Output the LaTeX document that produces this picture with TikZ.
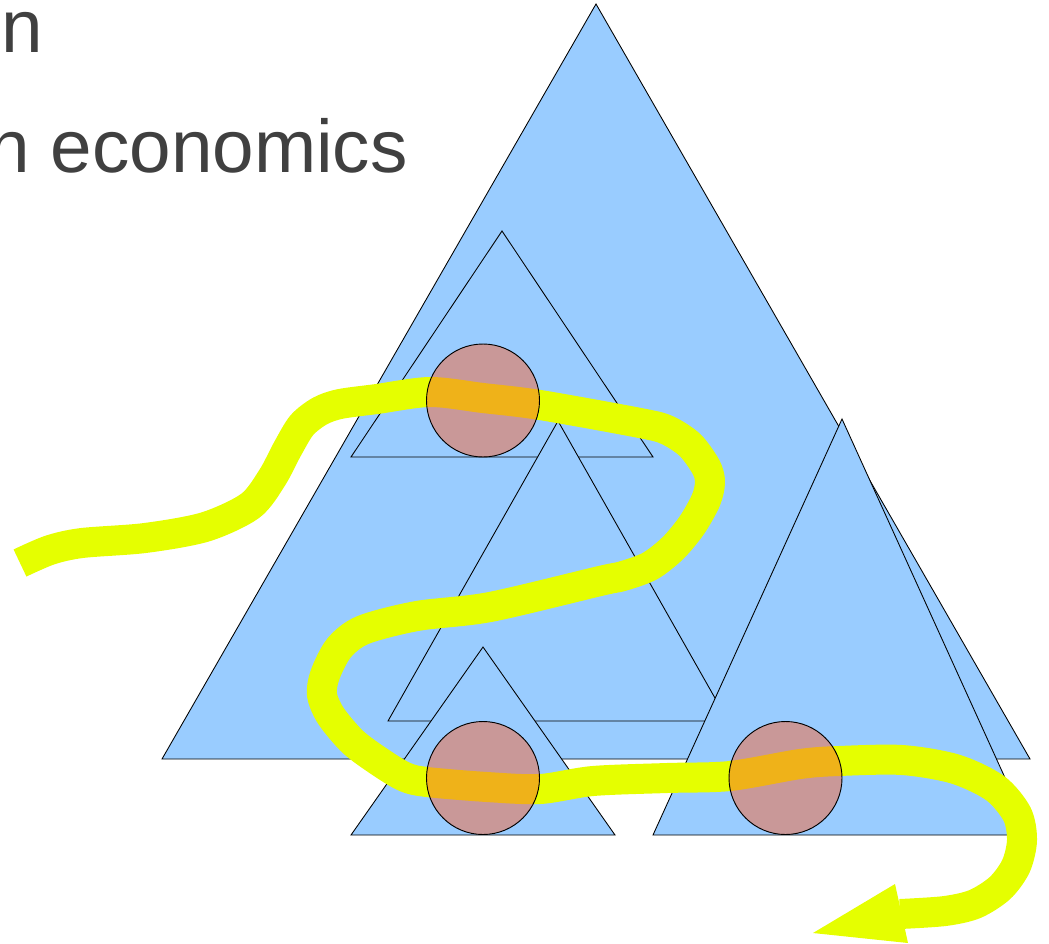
\documentclass[tikz,border=0pt]{standalone}
\usepackage{fontspec}
\setmainfont{Liberation Sans}
\definecolor{triblue}{RGB}{153,204,255}
\definecolor{pathyellow}{RGB}{229,255,0}
\definecolor{discorange}{RGB}{249,102,51}
\definecolor{textgray}{RGB}{64,64,64}
\begin{document}
\begin{tikzpicture}[x=0.75pt,y=-0.75pt,
  tri/.style={fill=triblue, draw=black, line width=0.65pt, line join=miter},
  disc/.style={circle, fill=discorange, fill opacity=0.5, draw=black, draw opacity=1, line width=0.7pt, minimum size=84.75pt, inner sep=0pt},
  band/.style={draw=pathyellow, line width=22.5pt, line join=round},
  headstyle/.style={fill=pathyellow},
  slidetext/.style={font=\fontsize{56}{67}\selectfont, text=textgray, inner sep=0pt}]
\useasboundingbox (0,0) rectangle (1049,943);
% text
\node[slidetext, anchor=base east] (t1) at (43,52) {n};
\node[slidetext, anchor=base east] (t2) at (408,172) {n economics};
% triangles
\path[tri] (162,759) -- (596,4) -- (1030,759) -- cycle;
\path[tri] (351,457) -- (502,231) -- (653,457) -- cycle;
\path[tri] (388,721) -- (558,421) -- (728,721) -- cycle;
\path[tri] (351,835) -- (483,647) -- (615,835) -- cycle;
\path[tri] (653,835) -- (842,419) -- (1031,835) -- cycle;
% yellow band
\draw[band] plot[smooth, tension=0.5] coordinates {
(20,563) (50,550) (82,543) (145,538) (205,527) (250,506) (272,478) (288,448)
(302,425) (320,411) (340,404) (377,399) (430,392) (483,398) (540,405) (640,423)
(667,430) (690,445) (706,467) (710,482) (706,500) (692,525) (673,548) (650,566)
(623,576) (600,581) (490,607) (417,616) (363,630) (339,648) (325,675) (322,695)
(331,716) (353,742) (380,762) (405,777) (427,782) (487,787) (540,789) (593,781)
(667,778) (730,776) (800,764) (839,761) (902,760) (955,769) (995,788) (1017,814)
(1022,840) (1016,866) (1000,888) (975,904) (945,911) (900,914)};
\fill[headstyle] (895,884) -- (813,933) -- (908,943) -- cycle;
% discs
\node[disc] (c1) at (483,400.5) {};
\node[disc] (c2) at (483,778) {};
\node[disc] (c3) at (785.5,778) {};
\end{tikzpicture}
\end{document}
